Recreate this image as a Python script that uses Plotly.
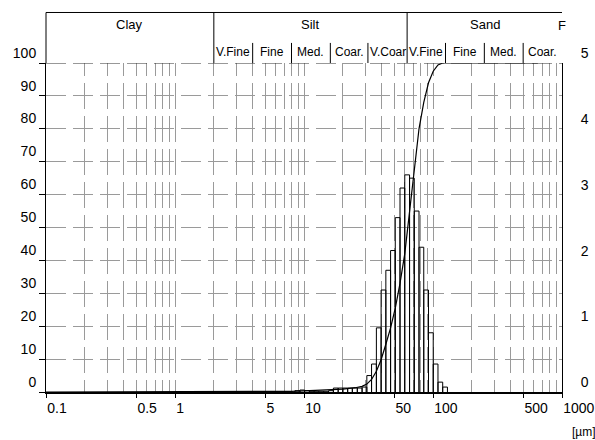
import math
import plotly.graph_objects as go

# ---------------- data ----------------
# histogram classes (µm edges) and frequency (% per class, right axis)
bin_edges = [8.5, 9.3, 10.1, 11.0, 12.0, 13.0, 14.2, 15.5, 16.9, 18.4, 20.0, 21.8, 23.7, 25.9,
             28.2, 30.7, 33.4, 36.4, 39.6, 43.1, 46.9, 51.0, 55.5, 60.4, 65.8, 71.6, 77.9,
             84.8, 92.3, 100.4, 109.3, 118.9, 129.4]
freq = [0.02, 0.03, 0.02, 0.01, 0.01, 0.01, 0.01, 0.02, 0.06, 0.06, 0.06, 0.06, 0.06, 0.06,
        0.075, 0.25, 0.425, 0.975, 1.55, 1.85, 2.15, 2.65, 3.1, 3.3, 3.25, 2.75, 2.2,
        1.55, 0.9, 0.425, 0.15, 0.075]

# cumulative curve (µm, % undersize, left axis)
cum_size = [0.1, 1, 5, 8, 10, 12, 16, 20, 25, 28.2, 30.7, 33.4, 36.4, 39.6, 43.1, 46.9, 51.0,
            55.5, 60.4, 65.8, 71.6, 77.9, 84.8, 92.3, 100.4, 109.3, 118.9, 650]
cum_pct = [0, 0, 0.05, 0.2, 0.35, 0.45, 0.6, 0.9, 1.3, 1.7, 2.4, 3.8, 6.3, 9.8, 14.5, 19.5, 25.5,
           33, 42, 55, 68, 80, 88, 94, 97.5, 99.4, 100, 100]

x_ticks = [0.1, 0.5, 1, 5, 10, 50, 100, 500, 1000]
x_labels = ["0.1", "0.5", "1", "5", "10", "50", "100", "500", "1000"]
minor_grid = [0.2, 0.3, 0.4, 0.6, 0.7, 0.8, 0.9, 2, 3, 4, 6, 7, 8, 9,
              20, 30, 40, 60, 70, 80, 90, 200, 300, 400, 600, 700, 800, 900]
y_left_ticks = [0, 10, 20, 30, 40, 50, 60, 70, 80, 90, 100]
y_right_ticks = [0, 1, 2, 3, 4, 5]

# grain-size classes for the header
main_classes = ["Clay", "Silt", "Sand"]
main_bounds = [0.1, 2, 63, 1000]
sub_classes = ["V.Fine", "Fine", "Med.", "Coar.", "V.Coar", "V.Fine", "Fine", "Med.", "Coar."]
sub_bounds = [2, 4, 8, 16, 31.3, 63, 125, 250, 500, 1000]

FONT = "Liberation Sans, Arial, sans-serif"

fig = go.Figure()

# histogram bars as outlines
bx, by = [], []
for lo, hi, v in zip(bin_edges[:-1], bin_edges[1:], freq):
    bx += [lo, lo, hi, hi, None]
    by += [0, v, v, 0, None]
fig.add_trace(go.Scatter(x=bx, y=by, mode="lines", yaxis="y2",
                         line=dict(color="black", width=1), hoverinfo="skip"))

# cumulative curve
fig.add_trace(go.Scatter(x=cum_size, y=cum_pct, mode="lines", yaxis="y",
                         line=dict(color="black", width=1.2), hoverinfo="skip"))

GRID = "#9a9a9a"
fig.update_layout(
    width=595, height=440,
    margin=dict(l=46, r=33, t=63, b=48),
    plot_bgcolor="white", paper_bgcolor="white",
    showlegend=False,
    font=dict(family=FONT, size=14, color="black"),
    xaxis=dict(type="log", range=[-1, 3], tickmode="array", tickvals=x_ticks, ticktext=x_labels,
               ticks="outside", ticklen=4, tickcolor="black", tickangle=0, automargin=False,
               showline=True, linecolor="black", linewidth=1.5,
               showgrid=True, gridcolor=GRID, gridwidth=1, griddash="13px,7px,13px,0px",
               minor=dict(tickmode="array", tickvals=minor_grid, showgrid=True, gridcolor=GRID,
                          gridwidth=1, griddash="13px,7px,13px,0px", ticks=""),
               ticklabelposition="outside right", ticklabelstandoff=2, zeroline=False, fixedrange=True),
    yaxis=dict(range=[0, 100], tickmode="array", tickvals=y_left_ticks, automargin=False,
               ticks="outside", ticklen=6, tickcolor="black",
               showline=True, linecolor="black", linewidth=1,
               showgrid=True, gridcolor=GRID, gridwidth=1, griddash="20px,7px",
               ticklabelposition="outside top", ticklabelstandoff=6, zeroline=False),
    yaxis2=dict(range=[0, 5], overlaying="y", side="right", tickmode="array", tickvals=y_right_ticks,
                ticks="", showline=True, linecolor="black", linewidth=1, showgrid=False, automargin=False,
                ticklabelposition="outside top", ticklabelstandoff=15, zeroline=False),
)

# dark dashed line at 100 %
fig.add_shape(type="line", xref="paper", yref="y", x0=0, x1=1, y0=100, y1=100,
              line=dict(color="#333333", width=1, dash="20px,7px"))

# header box
HTOP = 1.1535
fig.add_shape(type="line", xref="paper", yref="paper", x0=0, x1=1, y0=HTOP, y1=HTOP,
              line=dict(color="black", width=1))
fig.add_shape(type="line", xref="paper", yref="paper", x0=0, x1=0, y0=1, y1=HTOP,
              line=dict(color="black", width=1))
for b in main_bounds[1:-1]:
    fig.add_shape(type="line", xref="x", yref="paper", x0=b, x1=b, y0=1, y1=HTOP,
                  line=dict(color="black", width=1))
for b in sub_bounds[1:-1]:
    if b in main_bounds:
        continue
    fig.add_shape(type="line", xref="x", yref="paper", x0=b, x1=b, y0=1, y1=1.061,
                  line=dict(color="black", width=1))

for name, lo, hi in zip(main_classes, main_bounds[:-1], main_bounds[1:]):
    fig.add_annotation(x=(math.log10(lo) + math.log10(hi)) / 2, y=1.1185, xref="x", yref="paper",
                       text=name, showarrow=False, font=dict(size=13), xanchor="center", yanchor="middle")
fig.add_annotation(x=3, y=1.114, xref="x", yref="paper", text="F", showarrow=False,
                   font=dict(size=13), xanchor="center", yanchor="middle")
for name, lo, hi in zip(sub_classes, sub_bounds[:-1], sub_bounds[1:]):
    fig.add_annotation(x=(math.log10(lo) + math.log10(hi)) / 2, y=1.032, xref="x", yref="paper",
                       text=name, showarrow=False, font=dict(size=12), xanchor="center", yanchor="middle")

# unit label
fig.add_annotation(x=1.0, y=-0.095, xref="paper", yref="paper", text="[µm]", showarrow=False,
                   font=dict(size=12), xanchor="left", yanchor="top", xshift=8)

fig.write_html("out.html", config={"displayModeBar": False},
               post_script="document.body.style.margin='0px';document.body.style.overflow='hidden';")
